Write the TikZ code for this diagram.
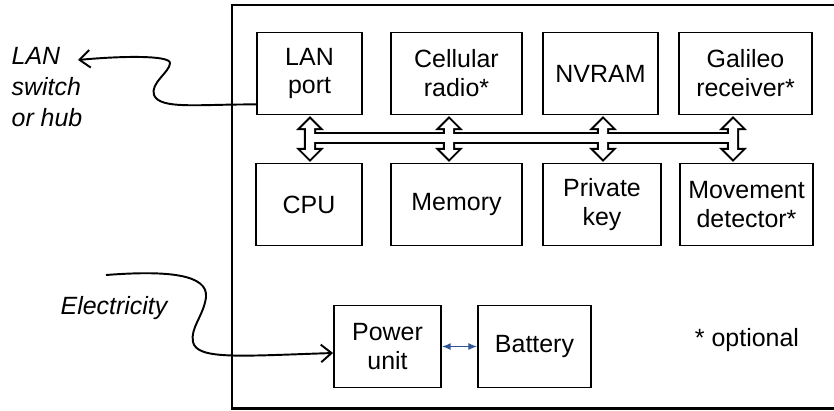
\documentclass[tikz,border=0pt]{standalone}
\usepackage{fontspec}
\setmainfont{Liberation Sans}
\usetikzlibrary{arrows.meta}
\definecolor{linkblue}{RGB}{47,85,151}

\begin{document}
\begin{tikzpicture}[x=0.02cm, y=-0.02cm, >=Stealth,
  box/.style={draw, line width=1.1pt, minimum height=1.64cm, inner sep=2pt, align=center, font=\fontsize{14.2}{16.5}\selectfont},
  lbl/.style={align=left, inner sep=0pt, font=\fontsize{14.2}{17.9}\selectfont\itshape},
  wire/.style={line width=1.1pt, -{Straight Barb[length=6pt,width=10pt]}}]
  \useasboundingbox (0,0) rectangle (834,410);
  % device outline, cut off on the right
  \draw[line width=1.3pt] (834,5) -- (232,5) -- (232,408.5) -- (834,408.5);

  % top row
  \node[box, minimum width=2.1cm]  (lan)   at (309.5,73.5) {LAN\\port};
  \node[box, minimum width=2.62cm] (cell)  at (456.5,73.5) {Cellular\\radio*};
  \node[box, minimum width=2.3cm]  (nvram) at (600.5,73.5) {NVRAM};
  \node[box, minimum width=2.66cm] (gal)   at (745.5,73.5) {Galileo\\receiver*};
  % bottom row
  \node[box, minimum width=2.12cm] (cpu)  at (309,204.5) {CPU};
  \node[box, minimum width=2.62cm] (mem)  at (456.5,204.5) {Memory};
  \node[box, minimum width=2.36cm] (key)  at (602,204.5) {Private\\key};
  \node[box, minimum width=2.66cm] (move) at (746.5,204.5) {Movement\\detector*};
  % power
  \node[box, minimum width=2.14cm] (power) at (387.5,346.5) {Power\\unit};
  \node[box, minimum width=2.26cm] (batt)  at (534.5,346.5) {Battery};

  \node[font=\fontsize{14.2}{16.5}\selectfont] (opt) at (747,340) {* optional};
  \node[lbl] (lanhub) at (47,87) {LAN\\switch\\or hub};
  \node[lbl] (elec) at (114,308) {Electricity};

  % bus: outline first, then white fill on top
  \draw[line width=2.3pt] (310,134) rectangle (733,142);
  \foreach \bx in {310,449,603,733}
    \draw[line width=2.3pt] ({\bx-4},128) -- ({\bx-9},128) -- (\bx,119) -- ({\bx+9},128) -- ({\bx+4},128)
      -- ({\bx+4},150) -- ({\bx+9},150) -- (\bx,159) -- ({\bx-9},150) -- ({\bx-4},150) -- cycle;
  \fill[white] (310,134) rectangle (733,142);
  \foreach \bx in {310,449,603,733}
    \fill[white] ({\bx-4},128) -- ({\bx-9},128) -- (\bx,119) -- ({\bx+9},128) -- ({\bx+4},128)
      -- ({\bx+4},150) -- ({\bx+9},150) -- (\bx,159) -- ({\bx-9},150) -- ({\bx-4},150) -- cycle;

  \draw[linkblue, line width=0.7pt, {Latex[length=5pt,width=4pt]}-{Latex[length=5pt,width=4pt]}] (power) -- (batt);

  % outside connections
  \coordinate (lanend) at (78,60);
  \coordinate (elecin) at (106,275);
  \draw[wire] ([yshift=0.22cm]lan.south west) .. controls (200,104) and (160,110) .. (154,95)
    .. controls (150,83) and (170,72) .. (170,63) .. controls (170,55) and (120,56) .. (lanend);
  \draw[wire] (elecin) .. controls (170,270) and (208,275) .. (206,297)
    .. controls (204,315) and (190,328) .. (193,342) .. controls (197,360) and (240,356) .. ([yshift=-0.13cm]power.west);
\end{tikzpicture}
\end{document}
